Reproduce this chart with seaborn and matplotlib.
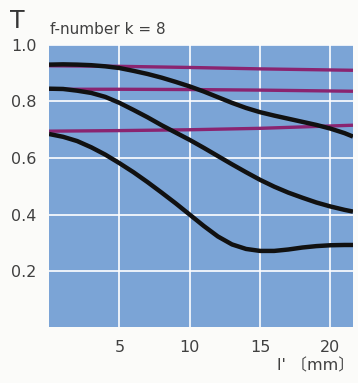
import pandas as pd
import matplotlib
matplotlib.use('Agg')
import matplotlib.pyplot as plt
import seaborn as sns

# distance l' (mm) and transmission T
x_black_top = [0, 1, 2, 3, 4, 5, 6, 7, 8, 9, 10, 11, 12, 13, 14, 15, 16, 17, 18, 19, 20, 21, 21.6]
t_black_top = [0.93, 0.931, 0.93, 0.928, 0.924, 0.918, 0.908, 0.897, 0.884, 0.869, 0.853, 0.835,
               0.815, 0.795, 0.777, 0.762, 0.75, 0.739, 0.728, 0.717, 0.704, 0.688, 0.676]

x_black_mid = [0, 1, 2, 3, 4, 5, 6, 7, 8, 9, 10, 11, 12, 13, 14, 15, 16, 17, 18, 19, 20, 21, 21.6]
t_black_mid = [0.845, 0.844, 0.838, 0.83, 0.816, 0.795, 0.77, 0.744, 0.716, 0.69, 0.664, 0.636,
               0.607, 0.578, 0.55, 0.523, 0.499, 0.478, 0.46, 0.443, 0.429, 0.417, 0.411]

x_black_low = [0, 1, 2, 3, 4, 5, 6, 7, 8, 9, 10, 11, 12, 13, 14, 15, 16, 17, 18, 19, 20, 21, 21.6]
t_black_low = [0.685, 0.675, 0.66, 0.638, 0.612, 0.582, 0.55, 0.515, 0.478, 0.44, 0.4, 0.36,
               0.323, 0.295, 0.279, 0.272, 0.272, 0.277, 0.284, 0.289, 0.292, 0.293, 0.293]

x_purple = [0, 5, 10, 15, 21.6]
t_purple_top = [0.926, 0.924, 0.92, 0.915, 0.91]
t_purple_mid = [0.843, 0.843, 0.842, 0.84, 0.836]
t_purple_low = [0.695, 0.697, 0.70, 0.705, 0.716]

x_ticks = [5, 10, 15, 20]
y_ticks = [0.2, 0.4, 0.6, 0.8, 1.0]

sns.set_style('white')
plt.rcParams['font.family'] = ['DejaVu Sans', 'Noto Sans CJK JP']

fig = plt.figure(figsize=(3.58, 3.83), dpi=100, facecolor='#fbfbf9')
ax = fig.add_axes([0.137, 0.146, 0.849, 0.737])
ax.set_facecolor('#7ba4d6')

purple = '#8a2470'
for t in [t_purple_top, t_purple_mid, t_purple_low]:
    sns.lineplot(x=x_purple, y=t, ax=ax, color=purple, linewidth=2.4, sort=False,
                 solid_capstyle='butt')

for xs, ts in [(x_black_top, t_black_top), (x_black_mid, t_black_mid), (x_black_low, t_black_low)]:
    sns.lineplot(x=xs, y=ts, ax=ax, color='#111111', linewidth=3.2, sort=False,
                 solid_joinstyle='round', solid_capstyle='butt')

ax.set_xlim(0, 21.6)
ax.set_ylim(0.003, 0.993)
ax.set_xticks(x_ticks)
ax.set_yticks(y_ticks)
ax.set_yticklabels(['0.2', '0.4', '0.6', '0.8', '1.0'])
ax.grid(True, color='white', linewidth=1.2)
ax.set_axisbelow(True)
for s in ax.spines.values():
    s.set_visible(False)
ax.tick_params(length=0, labelsize=11.5, labelcolor='#404040', pad=9)

fig.text(0.028, 0.945, 'T', fontsize=17, color='#353535', ha='left', va='center')
fig.text(0.14, 0.924, 'f-number k = 8', fontsize=11, color='#404040', ha='left', va='center')
fig.text(0.99, 0.045, "l' 〔mm〕", fontsize=11.5, color='#404040', ha='right', va='center')

fig.savefig('out.png', dpi=100, facecolor=fig.get_facecolor())
